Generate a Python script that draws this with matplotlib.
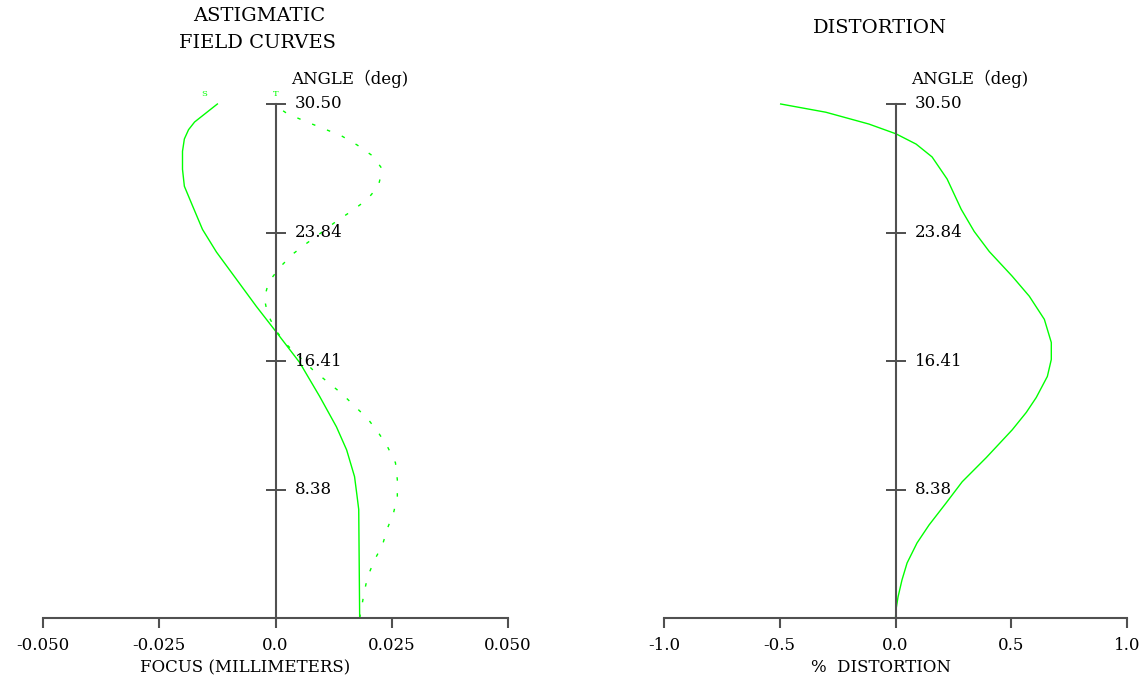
import matplotlib
matplotlib.use("Agg")
import matplotlib.pyplot as plt
import numpy as np

# field heights are normalised (0 = axis, 1 = full field); labels are in degrees
field_ticks = [0.25, 0.5, 0.75, 1.0]
angle_labels = ["8.38", "16.41", "23.84", "30.50"]

# sagittal focus (mm) vs normalised field
sag_field = [0.0, 0.211, 0.240, 0.275, 0.327, 0.372, 0.431, 0.497, 0.556, 0.606, 0.659,
             0.712, 0.756, 0.801, 0.840, 0.873, 0.908, 0.932, 0.950, 0.965, 1.0]
sag_focus = [0.0181, 0.0179, 0.0175, 0.0170, 0.0153, 0.0131, 0.0095, 0.0052, 0.0002, -0.0041, -0.0084,
             -0.0127, -0.0157, -0.0178, -0.0196, -0.0200, -0.0200, -0.0196, -0.0187, -0.0174, -0.0125]

# tangential focus (mm) vs normalised field
tan_field = [0.0, 0.010, 0.051, 0.080, 0.113, 0.142, 0.175, 0.205, 0.236, 0.269,
             0.302, 0.333, 0.361, 0.388, 0.437, 0.483, 0.532, 0.558, 0.591, 0.622,
             0.653, 0.682, 0.708, 0.729, 0.750, 0.772, 0.793, 0.815, 0.840, 0.873,
             0.899, 0.920, 0.938, 0.953, 0.967, 0.982, 1.0]
tan_focus = [0.0181, 0.0183, 0.0191, 0.0198, 0.0213, 0.0230, 0.0241, 0.0254, 0.0262, 0.0262,
             0.0258, 0.0241, 0.0221, 0.0198, 0.0142, 0.0080, 0.0024, 0.0002, -0.0017, -0.0024,
             -0.0015, 0.0009, 0.0037, 0.0067, 0.0099, 0.0131, 0.0166, 0.0198, 0.0221, 0.0230,
             0.0209, 0.0176, 0.0142, 0.0101, 0.0062, 0.0024, -0.0005]

# % distortion vs normalised field
dist_field = [0.0, 0.016, 0.041, 0.074, 0.107, 0.146, 0.181, 0.224, 0.265, 0.312,
              0.366, 0.400, 0.429, 0.470, 0.503, 0.536, 0.581, 0.626, 0.665, 0.713,
              0.752, 0.795, 0.825, 0.854, 0.897, 0.922, 0.942, 0.961, 0.984, 1.0]
dist_pct = [0.0, 0.002, 0.011, 0.028, 0.050, 0.093, 0.145, 0.219, 0.288, 0.392,
            0.504, 0.565, 0.608, 0.656, 0.673, 0.673, 0.643, 0.578, 0.504, 0.405,
            0.340, 0.284, 0.253, 0.223, 0.158, 0.089, 0.002, -0.115, -0.301, -0.496]

focus_ticks = [-0.05, -0.025, 0.0, 0.025, 0.05]
focus_labels = ["-0.050", "-0.025", "0.0", "0.025", "0.050"]
dist_ticks = [-1.0, -0.5, 0.0, 0.5, 1.0]
dist_labels = ["-1.0", "-0.5", "0.0", "0.5", "1.0"]

W, H = 1146, 678
GREEN = "#00ff00"
AXC = "#505050"
FONT = ["DejaVu Serif", "Noto Sans CJK SC"]
plt.rcParams["font.family"] = FONT

fig = plt.figure(figsize=(W / 100, H / 100), dpi=100)


def px(x, y):
    # pixel (from top-left) -> figure fraction
    return x / W, 1 - y / H


def setup_axes(left_px, right_px, ticks, labels):
    l, b = px(left_px, 618)
    r, t = px(right_px, 104)
    ax = fig.add_axes([l, b, r - l, t - b])
    ax.set_xlim(ticks[0], ticks[-1])
    ax.set_ylim(0, 1)
    for s in ["top", "right"]:
        ax.spines[s].set_visible(False)
    ax.spines["left"].set_position(("data", 0))
    ax.spines["left"].set_color(AXC)
    ax.spines["bottom"].set_color(AXC)
    ax.spines["left"].set_linewidth(1.5)
    ax.spines["bottom"].set_linewidth(1.5)
    ax.set_xticks(ticks)
    ax.set_xticklabels(labels)
    ax.tick_params(axis="x", direction="out", length=7, width=1.5, color=AXC,
                   pad=7, labelsize=12)
    ax.set_yticks(field_ticks)
    ax.set_yticklabels([])
    ax.tick_params(axis="y", direction="inout", length=14, width=1.2, color="#303030")
    for yv, lab in zip(field_ticks, angle_labels):
        ax.annotate(lab, xy=(0, yv), xytext=(14, 0), textcoords="offset points",
                    ha="left", va="center", fontsize=12)
    ax.annotate("ANGLE（deg)", xy=(0, 1), xytext=(11, 18), textcoords="offset points",
                ha="left", va="center", fontsize=12)
    return ax


# astigmatic field curves
ax1 = setup_axes(43, 508, focus_ticks, focus_labels)
ax1.plot(sag_focus, sag_field, color=GREEN, lw=1.0, clip_on=False)
ax1.plot(tan_focus, tan_field, color=GREEN, lw=1.0, linestyle=(0, (2.5, 9)), clip_on=False)
ax1.annotate("S", xy=(-0.0153, 1.0), xytext=(0, 7), textcoords="offset points",
             ha="center", va="center", fontsize=6, color=GREEN)
ax1.annotate("T", xy=(0.0, 1.0), xytext=(0, 7), textcoords="offset points",
             ha="center", va="center", fontsize=6, color=GREEN)

# distortion
ax2 = setup_axes(664, 1127, dist_ticks, dist_labels)
ax2.plot(dist_pct, dist_field, color=GREEN, lw=1.0, clip_on=False)

fig.text(*px(259, 16), "ASTIGMATIC", ha="center", va="center", fontsize=14)
fig.text(*px(257, 43), "FIELD CURVES", ha="center", va="center", fontsize=14)
fig.text(*px(880, 28), "DISTORTION", ha="center", va="center", fontsize=14)
fig.text(*px(245, 668), "FOCUS (MILLIMETERS)", ha="center", va="center", fontsize=12)
fig.text(*px(881, 668), "%  DISTORTION", ha="center", va="center", fontsize=12)

fig.savefig("out.png", dpi=100, facecolor="white")
